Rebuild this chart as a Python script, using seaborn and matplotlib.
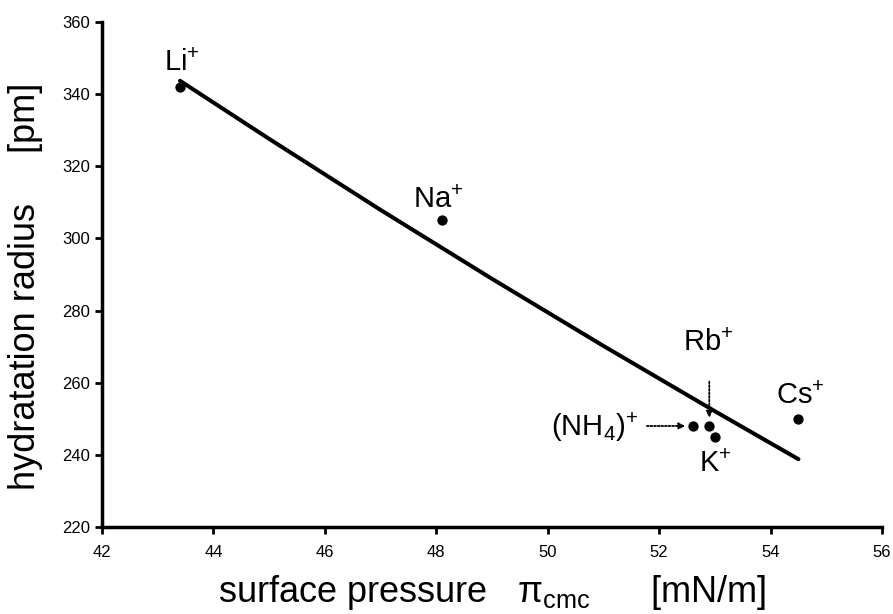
"""
plot.py
-----------
Raio de hidratação dos cátions vs. pressão superficial (pi_cmc).
"""

import matplotlib
matplotlib.use("Agg")
import matplotlib.pyplot as plt
import seaborn as sns
import pandas as pd

# -------------------------
#  Dados
# -------------------------
ions = ["Li", "Na", "NH4", "Rb", "K", "Cs"]
surface_pressure = [43.4, 48.1, 52.6, 52.9, 53.0, 54.5]
hydration_radius = [342, 305, 248, 248, 245, 250]

# curva de ajuste (pontos lidos ao longo da linha)
fit_x = [43.4, 45.0, 47.0, 49.0, 51.0, 53.0, 54.5]
fit_y = [343.7, 327.6, 307.9, 288.8, 270.2, 252.1, 238.8]

x_ticks = [42, 44, 46, 48, 50, 52, 54, 56]
y_ticks = [220, 240, 260, 280, 300, 320, 340, 360]

df = pd.DataFrame({"ion": ions, "pi": surface_pressure, "r": hydration_radius})
fit = pd.DataFrame({"pi": fit_x, "r": fit_y})

# -----------------------------
# Estilo
# -----------------------------
sns.set_style("ticks")
plt.rcParams["font.family"] = ["Liberation Sans", "DejaVu Sans"]
plt.rcParams["text.color"] = "black"
plt.rcParams["axes.labelcolor"] = "black"
plt.rcParams["mathtext.fontset"] = "custom"
plt.rcParams["mathtext.rm"] = "Liberation Sans"
plt.rcParams["mathtext.it"] = "Liberation Sans:italic"
plt.rcParams["mathtext.bf"] = "Liberation Sans:bold"

fig = plt.figure(figsize=(8.93, 6.14), dpi=100)
ax = fig.add_axes([0.1142, 0.1417, 0.8735, 0.8225])

sns.lineplot(data=fit, x="pi", y="r", color="black", linewidth=2.9, ax=ax)
sns.scatterplot(data=df, x="pi", y="r", color="black", s=55, edgecolor="black",
                linewidth=0, ax=ax, zorder=3)

# -----------------------------
# Rótulos dos íons
# -----------------------------
lab = dict(fontsize=21, color="black")
ax.text(43.44, 348.6, r"Li$^{\mathregular{+}}$", ha="center", va="center", **lab)
ax.text(48.03, 310.7, r"Na$^{\mathregular{+}}$", ha="center", va="center", **lab)
ax.text(52.88, 271.0, r"Rb$^{\mathregular{+}}$", ha="center", va="center", **lab)
ax.text(54.53, 256.3, r"Cs$^{\mathregular{+}}$", ha="center", va="center", **lab)
ax.text(53.00, 237.5, r"K$^{\mathregular{+}}$", ha="center", va="center", **lab)
ax.text(51.62, 247.6, r"(NH$_{\mathregular{4}}$)$^{\mathregular{+}}$", ha="right", va="center", **lab)

arrow = dict(arrowstyle="-|>", linestyle=(0, (1, 1)), color="black", lw=1.3,
             mutation_scale=9, shrinkA=0, shrinkB=0)
ax.annotate("", xy=(52.9, 250.3), xytext=(52.9, 260.3), arrowprops=arrow)
ax.annotate("", xy=(52.47, 248.0), xytext=(51.78, 248.0), arrowprops=arrow)

# -----------------------------
# Eixos
# -----------------------------
ax.set_xlim(42, 56)
ax.set_ylim(220, 360)
ax.set_xticks(x_ticks)
ax.set_yticks(y_ticks)
ax.tick_params(axis="both", direction="out", length=5, width=2, labelsize=12,
               colors="black")
ax.tick_params(axis="x", pad=8)
for side in ["left", "bottom"]:
    ax.spines[side].set_linewidth(2.5)
    ax.spines[side].set_color("black")
sns.despine(ax=ax)

ax.set_xlabel(r"surface pressure   π$_{\mathregular{cmc}}$      [mN/m]",
              fontsize=26, labelpad=9, color="black")
ax.set_ylabel("hydratation radius     [pm]", fontsize=26, labelpad=14,
              y=0.477, color="black")

fig.savefig("out.png", dpi=100)
